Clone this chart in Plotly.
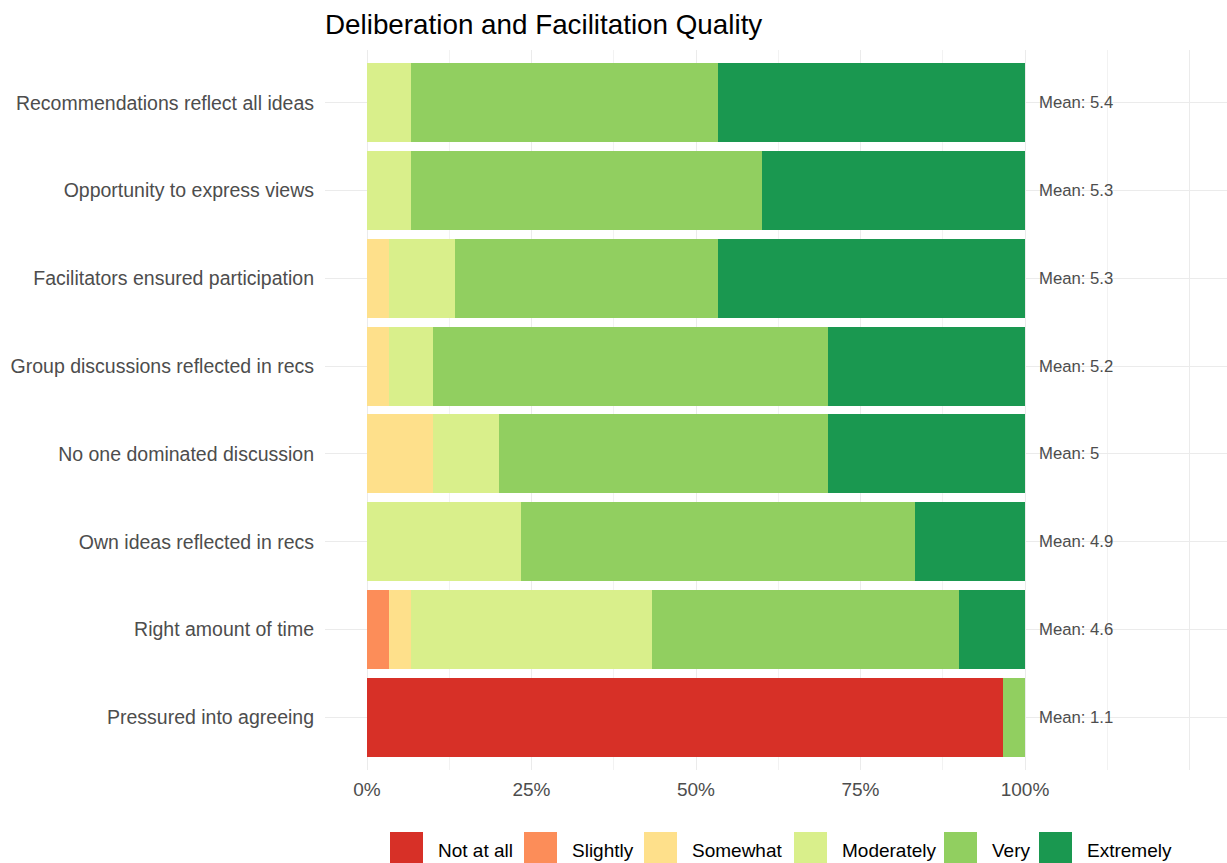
import plotly.graph_objects as go

# ---------------- data ----------------
categories = [
    "Recommendations reflect all ideas",
    "Opportunity to express views",
    "Facilitators ensured participation",
    "Group discussions reflected in recs",
    "No one dominated discussion",
    "Own ideas reflected in recs",
    "Right amount of time",
    "Pressured into agreeing",
]
levels = ["Not at all", "Slightly", "Somewhat", "Moderately", "Very", "Extremely"]
n_respondents = 30
count_not_at_all = [0, 0, 0, 0, 0, 0, 0, 29]
count_slightly   = [0, 0, 0, 0, 0, 0, 1, 0]
count_somewhat   = [0, 0, 1, 1, 3, 0, 1, 0]
count_moderately = [2, 2, 3, 2, 3, 7, 11, 0]
count_very       = [14, 16, 12, 18, 15, 18, 14, 1]
count_extremely  = [14, 12, 14, 9, 9, 5, 3, 0]
mean_scores = [5.4, 5.3, 5.3, 5.2, 5.0, 4.9, 4.6, 1.1]
x_tick_vals = [0, 0.25, 0.5, 0.75, 1.0, 1.25]
x_tick_text = ["0%", "25%", "50%", "75%", "100%", ""]

# ---------------- style ----------------
colors = ["#D73027", "#FC8D59", "#FEE08B", "#D9EF8B", "#91CF60", "#1A9850"]
FONT = "Liberation Sans, Arial, sans-serif"
W, H = 1227, 863
ML, MR, MT, MB = 325, 0, 50, 93

series = [count_not_at_all, count_slightly, count_somewhat,
          count_moderately, count_very, count_extremely]

fig = go.Figure()
for name, col, cnt in zip(levels, colors, series):
    fig.add_trace(go.Bar(
        y=categories,
        x=[c / n_respondents for c in cnt],
        name=name,
        orientation="h",
        marker=dict(color=col, line=dict(width=0)),
        showlegend=False,
        hoverinfo="skip",
    ))

# mean labels
for cat, m in zip(categories, mean_scores):
    fig.add_annotation(
        x=1.018, y=cat, xref="x", yref="y",
        text=f"Mean: {m:g}", showarrow=False,
        xanchor="left", yanchor="middle",
        font=dict(family=FONT, size=16.7, color="#4D4D4D"),
    )

# custom legend (ggplot-style large keys)
plot_w = W - ML - MR
plot_h = H - MT - MB
key_left_px = [390, 524, 644, 794, 944, 1039]
key_size_px = 33
key_top_px = 832
text_gap_px = 13
def px_to_paper_x(px):
    return (px - ML) / plot_w
def px_to_paper_y(py):
    return (H - MB - py) / plot_h
for name, col, kx in zip(levels, colors, key_left_px):
    fig.add_shape(
        type="rect", xref="paper", yref="paper",
        x0=px_to_paper_x(kx), x1=px_to_paper_x(kx + key_size_px),
        y0=px_to_paper_y(key_top_px), y1=px_to_paper_y(key_top_px + key_size_px),
        fillcolor=col, line=dict(width=0), layer="above",
    )
    fig.add_annotation(
        x=px_to_paper_x(kx + key_size_px + text_gap_px),
        y=px_to_paper_y(key_top_px + 18),
        xref="paper", yref="paper", showarrow=False,
        xanchor="left", yanchor="middle", text=name,
        font=dict(family=FONT, size=19, color="#000000"),
    )

x_lo = (ML - 367) / 658.0
x_hi = (W - MR - 367) / 658.0

fig.update_layout(
    width=W, height=H,
    margin=dict(l=ML, r=MR, t=MT, b=MB, pad=0),
    barmode="stack", bargap=0.1,
    paper_bgcolor="white", plot_bgcolor="white",
    title=dict(
        text="Deliberation and Facilitation Quality",
        x=ML / W, xanchor="left", xref="container",
        y=1 - 24 / H, yanchor="middle", yref="container",
        font=dict(family=FONT, size=27.8, color="#000000"),
    ),
    font=dict(family=FONT, size=19, color="#4D4D4D"),
    xaxis=dict(
        range=[x_lo, x_hi],
        tickvals=x_tick_vals, ticktext=x_tick_text,
        showgrid=True, gridcolor="#EBEBEB", gridwidth=1.3,
        minor=dict(tickvals=[0.125, 0.375, 0.625, 0.875, 1.125],
                   showgrid=True, gridcolor="#F2F2F2", gridwidth=0.9),
        zeroline=False, showline=False, ticks="",
        ticklabelstandoff=6,
        tickfont=dict(family=FONT, size=19, color="#4D4D4D"),
        fixedrange=True,
    ),
    yaxis=dict(
        categoryorder="array", categoryarray=categories,
        range=[len(categories) - 0.4, -0.6],
        showgrid=True, gridcolor="#EBEBEB", gridwidth=1.3,
        zeroline=False, showline=False, ticks="",
        ticklabelstandoff=10,
        tickfont=dict(family=FONT, size=19.5, color="#4D4D4D"),
        fixedrange=True,
    ),
)

fig.write_html(
    "out.html",
    config={"displayModeBar": False},
    post_script="document.body.style.margin='0';document.body.style.overflow='hidden';",
)
